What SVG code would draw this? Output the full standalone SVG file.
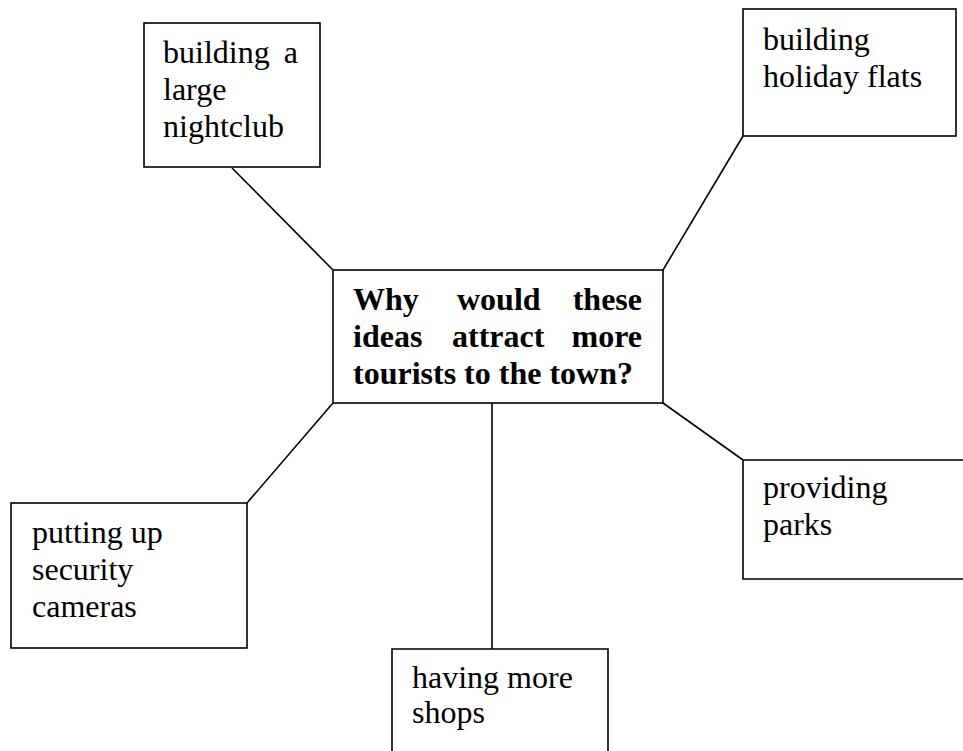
<svg xmlns="http://www.w3.org/2000/svg" width="963" height="751" viewBox="0 0 963 751">
<style>
.box{fill:#fff;stroke:#000;stroke-width:1.6}
.con line{stroke:#000;stroke-width:1.6}
text{font-family:"Liberation Serif","Times New Roman",serif;font-size:32px;fill:#000}
.b{font-weight:bold}
.e{text-anchor:end}
</style>
<rect width="963" height="751" fill="#fff"/>
<g class="con" id="connectors">
<line x1="232" y1="168" x2="333" y2="270"/>
<line x1="743" y1="136" x2="663" y2="270"/>
<line x1="333" y1="403" x2="247" y2="503"/>
<line x1="663" y1="403" x2="743" y2="460"/>
<line x1="492" y1="403" x2="492" y2="649"/>
</g>
<g id="center">
<rect class="box" x="333" y="270" width="330" height="133"/>
<text class="b" x="353" y="310">Why</text>
<text class="b" x="457" y="310">would</text>
<text class="b e" x="642" y="310">these</text>
<text class="b" x="353" y="347">ideas</text>
<text class="b" x="452" y="347">attract</text>
<text class="b e" x="642" y="347">more</text>
<text class="b" x="353" y="384">tourists to the town?</text>
</g>
<g id="nightclub">
<rect class="box" x="144" y="23" width="176" height="144"/>
<text x="163" y="63">building</text>
<text class="e" x="298" y="63">a</text>
<text x="163" y="100">large</text>
<text x="163" y="137">nightclub</text>
</g>
<g id="flats">
<rect class="box" x="743" y="9" width="213" height="127"/>
<text x="763" y="50">building</text>
<text x="763" y="87">holiday flats</text>
</g>
<g id="cameras">
<rect class="box" x="11" y="503" width="236" height="145"/>
<text x="32" y="543">putting up</text>
<text x="32" y="580">security</text>
<text x="32" y="617">cameras</text>
</g>
<g id="parks">
<path class="box" d="M965 460 H743 V579 H965"/>
<text x="763" y="498">providing</text>
<text x="763" y="535">parks</text>
</g>
<g id="shops">
<path class="box" d="M392 755 V649 H608 V755"/>
<text x="412" y="688">having more</text>
<text x="412" y="723">shops</text>
</g>
</svg>
